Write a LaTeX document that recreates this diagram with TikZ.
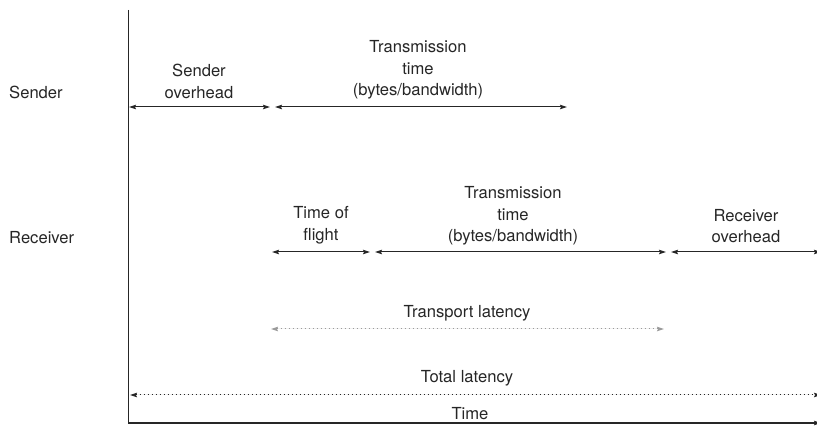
\documentclass[tikz,border=0pt]{standalone}
\usepackage{fontspec}
\setmainfont{TeX Gyre Heros}
\usepackage{tikz}
\usetikzlibrary{arrows.meta}
\definecolor{ink}{HTML}{262626}
\definecolor{faint}{HTML}{9A9A9A}
\tikzstyle{lbl} = [align=center, inner sep=0pt, text=ink, font=\fontsize{16.6}{21.5}\selectfont]
\tikzstyle{span} = [{Stealth[length=7pt,width=4.5pt,inset=1pt]}-{Stealth[length=7pt,width=4.5pt,inset=1pt]}, line width=1pt, draw=ink]
\tikzstyle{late} = [span, dash pattern=on 1pt off 3pt]

\begin{document}
\begin{tikzpicture}[x=1pt, y=1pt]
  \useasboundingbox (0,0) rectangle (817,427);
  % axes
  \coordinate (top) at (128,417);
  \coordinate (org) at (128,4);
  \coordinate (end) at (821,4);
  \draw [line width=1pt, draw=ink] (top) -- (org);
  \draw [line width=1.2pt, draw=ink, -{Stealth[length=7pt,width=4.5pt,inset=1pt]}] (org) -- (end);
  % rows
  \node (snd) at (9,335) [lbl, anchor=west] {Sender};
  \node (rcv) at (9,189) [lbl, anchor=west] {Receiver};
  \node (sov) at (199,345.5) [lbl] {Sender\\overhead};
  \node (stt) at (418,357) [lbl] {Transmission\\time\\(bytes/bandwidth)};
  \node (tof) at (321,202) [lbl] {Time of\\flight};
  \node (rtt) at (513,211) [lbl] {Transmission\\time\\(bytes/bandwidth)};
  \node (rov) at (746,201) [lbl] {Receiver\\overhead};
  \node (tpl) at (467,114) [lbl] {Transport latency};
  \node (ttl) at (467,49) [lbl] {Total latency};
  \node (tim) at (470,13) [lbl] {Time};
  % arrow ends
  \coordinate (s0) at (129,320);
  \coordinate (s1) at (270,320);
  \coordinate (s2) at (275,320);
  \coordinate (s3) at (567,320);
  \coordinate (r0) at (272,175);
  \coordinate (r1) at (370,175);
  \coordinate (r2) at (375,175);
  \coordinate (r3) at (666,175);
  \coordinate (r4) at (671,175);
  \coordinate (r5) at (821,175);
  \coordinate (t0) at (271,98);
  \coordinate (t1) at (664,98);
  \coordinate (l0) at (130,32);
  \coordinate (l1) at (821,32);
  \draw [span] (s0) to (s1);
  \draw [span] (s2) to (s3);
  \draw [span] (r0) to (r1);
  \draw [span] (r2) to (r3);
  \draw [span] (r4) to (r5);
  \draw [late, draw=faint, fill=faint] (t0) to (t1);
  \draw [late, fill=faint] (l0) to (l1);
\end{tikzpicture}
\end{document}
